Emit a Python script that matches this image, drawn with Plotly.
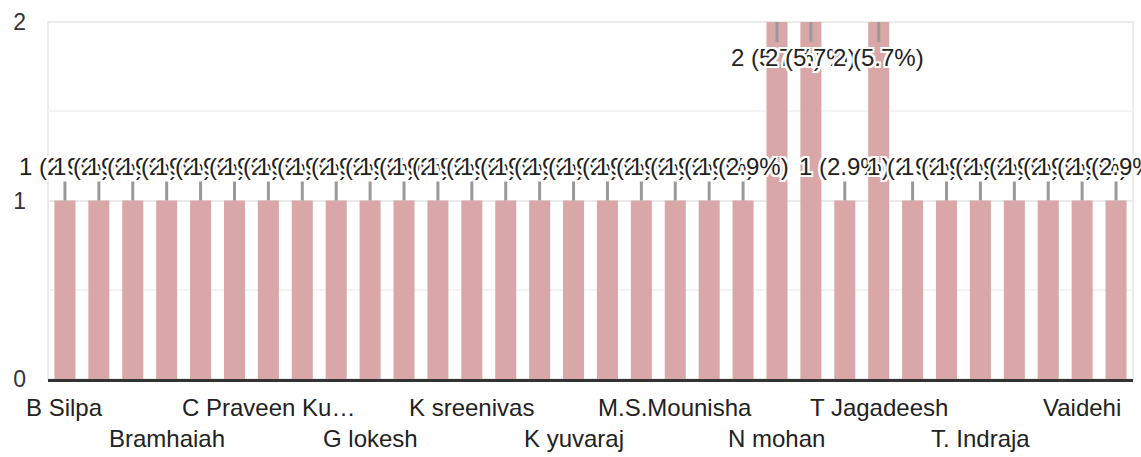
import plotly.graph_objects as go

# Responses per name
names = [
    "B Silpa", "B Sravani", "B Venkatesh", "Bramhaiah", "C Lakshmi", "C Mahesh",
    "C Praveen Kumar", "D Ramesh", "G Divya", "G lokesh", "G Swathi", "K Anusha",
    "K sreenivas", "K Suresh", "K Vijaya", "K yuvaraj", "M Harika", "M Rajesh",
    "M.S.Mounisha", "N Bhavani", "N Kiran", "N mohan", "P Sandeep", "S Ramya",
    "T Jagadeesh", "T Naveen", "T Sowmya", "T. Indraja", "U Prasad", "V Anitha",
    "Vaidehi", "Y Sunitha",
]
counts = [
    1, 1, 1, 1, 1, 1, 1, 1, 1, 1, 1, 1, 1, 1, 1, 1,
    1, 1, 1, 1, 1, 2, 2, 1, 2, 1, 1, 1, 1, 1, 1, 1,
]
y_ticks = [0, 1, 2]

BAR = "#d9a7a7"
TEXT = "#222222"
FONT = "Liberation Sans, Arial, sans-serif"
HALO = ("white 2px 0 0, white -2px 0 0, white 0 2px 0, white 0 -2px 0, "
        "white 2px 2px 0, white -2px -2px 0, white 2px -2px 0, white -2px 2px 0")

total = sum(counts)


def short(name, limit=13):
    return name if len(name) <= limit else name[:12] + "…"


fig = go.Figure(
    go.Bar(x=names, y=counts, marker=dict(color=BAR, line=dict(width=0)),
           hoverinfo="skip")
)

annotations = []
# value labels with leader lines
for n, c in zip(names, counts):
    pct = 100.0 * c / total
    top = c >= max(y_ticks)
    annotations.append(dict(
        x=n, y=c, xref="x", yref="y",
        text=f"{c} ({pct:.1f}%)",
        showarrow=True, arrowhead=0, arrowwidth=3, arrowcolor="#999999",
        ax=0, ay=35 if top else -34, standoff=0,
        font=dict(family=FONT, size=24, color=TEXT, shadow=HALO),
    ))

# category labels every third bar, staggered over two rows
for i in range(0, len(names), 3):
    row = (i // 3) % 2
    annotations.append(dict(
        x=names[i], y=0, xref="x", yref="paper",
        text=short(names[i]), showarrow=False,
        yanchor="middle", yshift=-28 - 31 * row,
        font=dict(family=FONT, size=24, color=TEXT),
    ))

fig.update_layout(
    width=1141, height=457,
    margin=dict(l=48, r=8, t=22, b=78),
    paper_bgcolor="white", plot_bgcolor="white",
    bargap=0.38,
    showlegend=False,
    annotations=annotations,
    shapes=[dict(type="rect", xref="paper", yref="paper", x0=0, x1=1, y0=0, y1=1,
                 line=dict(color="#ececec", width=2), layer="below")],
    xaxis=dict(showticklabels=False, ticks="", showgrid=False,
               showline=True, linecolor="#333333", linewidth=3,
               range=[-0.5, len(names) - 0.5], fixedrange=True),
    yaxis=dict(range=[0, 2], tickvals=y_ticks, ticks="", showgrid=True,
               gridcolor="#ebebeb", gridwidth=2, zeroline=False,
               minor=dict(dtick=0.5, showgrid=True, gridcolor="#f4f4f4", gridwidth=2),
               tickfont=dict(family=FONT, size=23, color="#333333"),
               ticklabelstandoff=21, fixedrange=True),
)

fig.write_html("out.html")
